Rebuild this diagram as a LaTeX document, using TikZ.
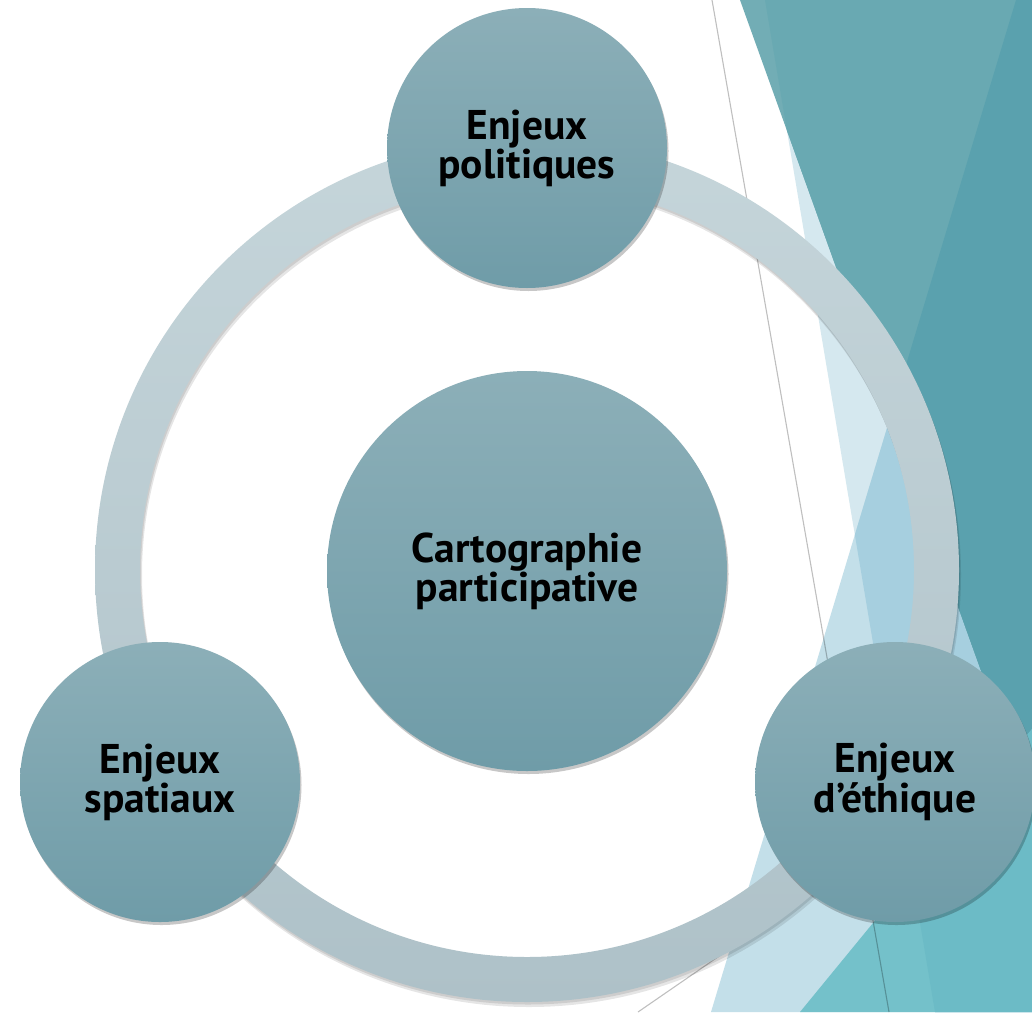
\documentclass[tikz,border=0pt]{standalone}
\usepackage{fontspec}
\setmainfont{PT Sans}
\usetikzlibrary{shadows}
\definecolor{paleS}{HTML}{D5E8EF}
\definecolor{lightT}{HTML}{C3DFE9}
\definecolor{midST}{HTML}{A6CFDF}
\definecolor{tealD}{HTML}{72ADB5}
\definecolor{tealDS}{HTML}{69A9B2}
\definecolor{tealDST}{HTML}{5AA1AE}
\definecolor{tealB}{HTML}{74C1CA}
\definecolor{tealBS}{HTML}{6CBBC6}
\definecolor{ringtop}{HTML}{C5D5DA}
\definecolor{ringbot}{HTML}{AEC1C8}
\definecolor{disctop}{HTML}{8CAFB8}
\definecolor{discbot}{HTML}{6F9CA8}
\tikzset{
  disc/.style={circle, inner sep=0pt, top color=disctop, bottom color=discbot,
    draw=none, align=center, text=black,
    font=\fontsize{41.5}{38}\selectfont\bfseries,
    drop shadow={shadow xshift=1.5pt, shadow yshift=-3pt, opacity=0.22, fill=black}},
  thinline/.style={draw=black, draw opacity=0.25, line width=1.1pt}
}
\begin{document}
\begin{tikzpicture}[x=1pt,y=-1pt]
\useasboundingbox (0,0) rectangle (1032,1012);
\fill[white] (0,0) rectangle (1032,1012);
% background facets
\def\Spath{(765,0) -- (1032,0) -- (1032,1012) -- (935,1012) -- cycle}
\def\Tpath{(1016,0) -- (1032,0) -- (1032,1012) -- (711,1012) -- cycle}
\def\Dpath{(740,0) -- (1032,0) -- (1032,790) -- (1011,754) -- cycle}
\def\Bpath{(800,1012) -- (1032,729) -- (1032,1012) -- cycle}
\fill[paleS] \Spath;
\fill[lightT] \Tpath;
\begin{scope}\clip \Spath; \fill[midST] \Tpath; \end{scope}
\fill[tealD] \Dpath;
\begin{scope}\clip \Dpath; \fill[tealDS] \Spath; \end{scope}
\begin{scope}\clip \Dpath; \clip \Spath; \fill[tealDST] \Tpath; \end{scope}
\fill[tealB] \Bpath;
\begin{scope}\clip \Bpath; \fill[tealBS] \Spath; \end{scope}
% thin lines
\coordinate (l1a) at (712,0);
\coordinate (l1b) at (889,1012);
\coordinate (l2a) at (638,1012);
\coordinate (l2b) at (815,890);
\draw[thinline] (l1a) -- (l1b);
\draw[thinline] (l2a) -- (l2b);
% ring
\coordinate (o) at (527,570);
\fill[black, opacity=0.10, even odd rule] ([shift={(2,5)}]o) circle[radius=432] ([shift={(2,5)}]o) circle[radius=387];
\fill[black, opacity=0.10, even odd rule] ([shift={(1,2.5)}]o) circle[radius=432] ([shift={(1,2.5)}]o) circle[radius=387];
\shade[top color=ringtop, bottom color=ringbot, even odd rule] (o) circle[radius=432] (o) circle[radius=387];
% discs
\node[disc, minimum size=400pt] (center) at (527,571) {Cartographie\\participative};
\node[disc, minimum size=280pt] (pol) at (527,148) {Enjeux\\politiques};
\node[disc, minimum size=280pt] (spa) at (160,782) {Enjeux\\spatiaux};
\node[disc, minimum size=280pt] (eth) at (895,782) {Enjeux\\d’éthique};
\end{tikzpicture}
\end{document}
